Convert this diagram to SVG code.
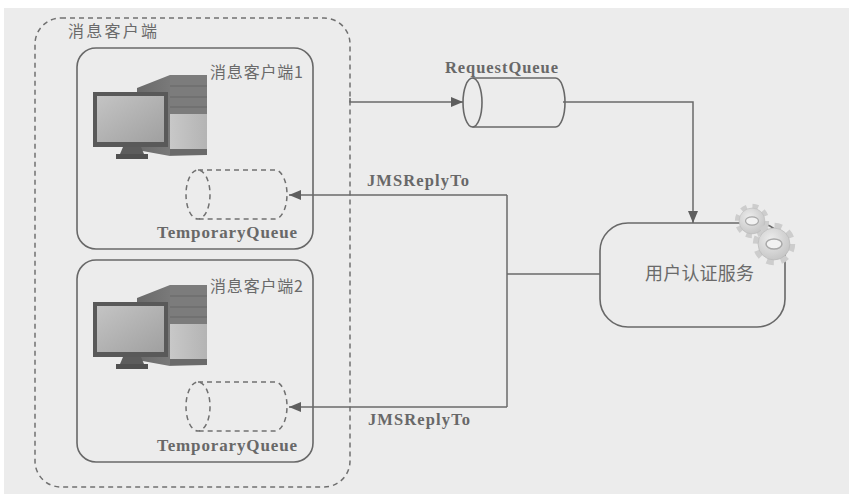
<svg xmlns="http://www.w3.org/2000/svg" width="849" height="494" viewBox="0 0 849 494">
  <style>
    .cn { font-family: "Noto Sans CJK SC", "Noto Sans", sans-serif; fill: #6a6a6a; }
    .en { font-family: "Liberation Serif", "DejaVu Serif", serif; font-weight: bold; fill: #686868; }
    .box { fill: none; stroke: #686868; stroke-width: 1.6; }
    .dash { fill: none; stroke: #707070; stroke-width: 1.5; stroke-dasharray: 5 4; }
    .link { fill: none; stroke: #6a6a6a; stroke-width: 1.5; }
  </style>
  <defs>
    <marker id="arrow" viewBox="0 0 12 10" refX="12" refY="5" markerWidth="12" markerHeight="10" markerUnits="userSpaceOnUse" orient="auto">
      <path d="M0,0 L12,5 L0,10 Z" fill="#5e5e5e"/>
    </marker>
    <linearGradient id="screen" x1="0" y1="0" x2="1" y2="1">
      <stop offset="0" stop-color="#c4c4c4"/>
      <stop offset="1" stop-color="#a0a0a0"/>
    </linearGradient>
    <linearGradient id="towerSide" x1="0" y1="0" x2="1" y2="0">
      <stop offset="0" stop-color="#6a6a6a"/>
      <stop offset="1" stop-color="#8a8a8a"/>
    </linearGradient>
    <linearGradient id="towerLow" x1="0" y1="0" x2="1" y2="0">
      <stop offset="0" stop-color="#c8c8c8"/>
      <stop offset="1" stop-color="#b4b4b4"/>
    </linearGradient>
    <radialGradient id="gearFill" cx="0.4" cy="0.35" r="0.7">
      <stop offset="0" stop-color="#ececec"/>
      <stop offset="1" stop-color="#c4c4c4"/>
    </radialGradient>
    <!-- desktop computer: monitor in front of a tower -->
    <g id="computer">
      <polygon points="137,88 170,75 207,75 207,155 170,156 137,150" fill="url(#towerSide)"/>
      <rect x="170" y="75" width="37" height="39" fill="#7c7c7c"/>
      <line x1="170" y1="86" x2="207" y2="86" stroke="#666" stroke-width="1"/>
      <line x1="170" y1="97" x2="207" y2="97" stroke="#666" stroke-width="1"/>
      <line x1="170" y1="107" x2="207" y2="107" stroke="#666" stroke-width="1"/>
      <rect x="170" y="114" width="37" height="35" fill="url(#towerLow)"/>
      <rect x="170" y="149" width="37" height="6" fill="#6a6a6a"/>
      <rect x="93" y="92" width="75" height="55" fill="#595959"/>
      <rect x="97" y="96" width="67" height="46" fill="url(#screen)"/>
      <polygon points="123,147 141,147 144,154 120,154" fill="#5c5c5c"/>
      <rect x="116" y="154" width="32" height="5" fill="#505050"/>
    </g>
    <!-- gear: toothed disc with a hole -->
    <g id="gear">
      <circle r="0.86" fill="none" stroke="#cdcdcd" stroke-width="0.3" stroke-dasharray="0.3378 0.3378"/>
      <circle r="0.76" fill="url(#gearFill)" stroke="#b8b8b8" stroke-width="0.03"/>
      <ellipse rx="0.38" ry="0.24" fill="#f2f2f2" stroke="#a8a8a8" stroke-width="0.07"/>
    </g>
  </defs>

  <!-- page -->
  <rect x="0" y="0" width="849" height="494" fill="#ffffff"/>
  <rect x="4" y="8" width="845" height="486" fill="#ececec"/>

  <!-- client container -->
  <g id="clients">
    <rect class="dash" x="35" y="18" width="315" height="469" rx="26"/>
    <text class="cn" x="68" y="37" font-size="16" textLength="89">消息客户端</text>
  </g>

  <g id="client1">
    <rect class="box" x="77" y="48" width="236" height="201" rx="19"/>
    <text class="cn" x="210" y="78" font-size="16" textLength="93">消息客户端1</text>
    <use href="#computer"/>
    <path class="dash" d="M198,170 H275 A12,24.5 0 0 1 275,219 H198"/>
    <ellipse class="dash" cx="198" cy="194.5" rx="12" ry="24.5"/>
    <text class="en" x="157" y="238" font-size="17" textLength="140">TemporaryQueue</text>
  </g>

  <g id="client2">
    <rect class="box" x="77" y="260" width="236" height="202" rx="19"/>
    <text class="cn" x="210" y="292" font-size="16" textLength="93">消息客户端2</text>
    <use href="#computer" transform="translate(0,210)"/>
    <path class="dash" d="M198,382 H275 A12,24.5 0 0 1 275,431 H198"/>
    <ellipse class="dash" cx="198" cy="406.5" rx="12" ry="24.5"/>
    <text class="en" x="157" y="450.5" font-size="17" textLength="140">TemporaryQueue</text>
  </g>

  <g id="request-queue">
    <text class="en" x="445" y="73" font-size="16.5" textLength="113">RequestQueue</text>
    <path class="box" d="M472.5,78 H555.5 A9.5,24.5 0 0 1 555.5,127 H472.5" stroke-width="1.8"/>
    <ellipse class="box" cx="472.5" cy="102.5" rx="9.5" ry="24.5" stroke-width="1.8"/>
  </g>

  <g id="auth-service">
    <rect class="box" x="600" y="223" width="185" height="104" rx="28" stroke-width="1.8"/>
    <text class="cn" x="645" y="280" font-size="18" textLength="109">用户认证服务</text>
    <use href="#gear" transform="translate(752,221) scale(17)"/>
    <use href="#gear" transform="translate(774,244) scale(21)"/>
  </g>

  <!-- connectors -->
  <g id="connectors">
    <path class="link" d="M350,98 V102 H463" marker-end="url(#arrow)"/>
    <path class="link" d="M563,102 H693 V223" marker-end="url(#arrow)"/>
    <path class="link" d="M600,274 H507"/>
    <path class="link" d="M507,195 V407"/>
    <path class="link" d="M507,195 H289" marker-end="url(#arrow)"/>
    <path class="link" d="M507,407 H289" marker-end="url(#arrow)"/>
    <text class="en" x="367" y="186" font-size="16.5" textLength="102">JMSReplyTo</text>
    <text class="en" x="368" y="425" font-size="16.5" textLength="102">JMSReplyTo</text>
  </g>
</svg>
